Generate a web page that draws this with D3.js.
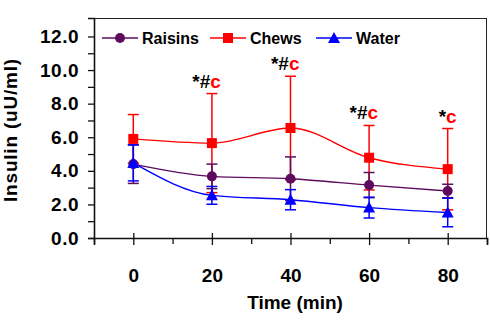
<!DOCTYPE html>
<html>
<head>
<meta charset="utf-8">
<script src="https://cdn.jsdelivr.net/npm/d3@7"></script>
<style>
  body { margin: 0; background: #fff; }
  svg { display: block; font-family: "Liberation Sans", Arial, sans-serif; font-weight: bold; }
</style>
</head>
<body>
<div id="chart"></div>
<script>
/*
    DATA
*/
let times = [0, 20, 40, 60, 80];
let raisins = [4.40, 3.67, 3.53, 3.15, 2.80];
let raisinsErr = [1.15, 0.73, 1.30, 0.75, 0.40];
let chews = [5.90, 5.65, 6.55, 4.78, 4.10];
let chewsErr = [1.45, 2.95, 3.08, 1.92, 2.42];
let water = [4.47, 2.54, 2.28, 1.81, 1.52];
let waterErr = [1.07, 0.53, 0.60, 0.62, 0.85];

let seriesNames = ["Raisins", "Chews", "Water"];
let markBlack = ["", "*#", "*#", "*#", "*"];
let markRed = ["", "c", "c", "c", "c"];

let yTicks = [0, 2, 4, 6, 8, 10, 12];
let yMinor = [1, 3, 5, 7, 9, 11];
let xMinor = [-10, 10, 30, 50, 70, 90];

/*
    LAYOUT
*/
let SIZE = { width: 490, height: 325 };
let PLOT = { left: 94, right: 487, top: 18, bot: 238 };

let x = d3.scaleLinear().domain([-10, 90]).range([PLOT.left, PLOT.right]);
let y = d3.scaleLinear().domain([0, 13.1]).range([PLOT.bot, PLOT.top]);

var svg = d3.select("#chart")
    .append("svg")
    .attr("width", SIZE.width)
    .attr("height", SIZE.height);

// frame (top / right thin)
svg.append("line")
    .attr("x1", PLOT.left).attr("x2", PLOT.right)
    .attr("y1", PLOT.top + 0.5).attr("y2", PLOT.top + 0.5)
    .style("stroke", "#222").style("stroke-width", "1px");
svg.append("line")
    .attr("x1", PLOT.right - 0.5).attr("x2", PLOT.right - 0.5)
    .attr("y1", PLOT.top).attr("y2", PLOT.bot)
    .style("stroke", "#222").style("stroke-width", "1px");

// y axis
var yAxis = svg.append("g")
    .attr("transform", `translate(${PLOT.left}, 0)`)
    .call(d3.axisLeft(y).tickValues(yTicks).tickSize(6).tickPadding(9).tickFormat(d3.format(".1f")));
svg.append("g")
    .attr("transform", `translate(${PLOT.left}, 0)`)
    .call(d3.axisLeft(y).tickValues(yMinor).tickSize(6).tickFormat(""))
    .select(".domain").remove();

// x axis
var xAxis = svg.append("g")
    .attr("transform", `translate(0, ${PLOT.bot})`)
    .call(d3.axisBottom(x).tickValues(times).tickSize(7).tickPadding(24).tickFormat(d3.format("d")));
xAxis.selectAll(".tick line").attr("y1", -5);
svg.append("g")
    .attr("transform", `translate(0, ${PLOT.bot})`)
    .call(d3.axisBottom(x).tickValues(xMinor).tickSize(6).tickFormat(""))
    .select(".domain").remove();

svg.selectAll(".domain").style("stroke", "#111").style("stroke-width", "1.6px");
svg.selectAll(".tick line").style("stroke", "#111").style("stroke-width", "1.3px");
svg.selectAll(".tick text")
    .style("font-family", "\"Liberation Sans\", Arial, sans-serif")
    .style("font-weight", "bold")
    .style("font-size", "19px")
    .style("fill", "#000");
yAxis.selectAll(".tick text").attr("x", -15).style("letter-spacing", "0.5px");

// axis titles
svg.append("text")
    .attr("transform", "translate(17, 130) rotate(-90)")
    .attr("text-anchor", "middle")
    .style("font-size", "19px")
    .style("letter-spacing", "0.8px")
    .text("Insulin (uU/ml)");
svg.append("text")
    .attr("x", 295).attr("y", 309)
    .attr("text-anchor", "middle")
    .style("font-size", "19px")
    .text("Time (min)");

/*
    SERIES
*/
let series = [
    { name: seriesNames[1], vals: chews, err: chewsErr, color: "#ff0000", shape: "square" },
    { name: seriesNames[0], vals: raisins, err: raisinsErr, color: "#5e0b5e", shape: "circle" },
    { name: seriesNames[2], vals: water, err: waterErr, color: "#0000ff", shape: "triangle" }
];

var line = d3.line()
    .x((d, i) => x(times[i]))
    .y(d => y(d))
    .curve(d3.curveMonotoneX);

function marker(g, shape, color) {
    if (shape == "circle") {
        g.append("circle").attr("r", 5).attr("fill", color);
    } else if (shape == "square") {
        g.append("rect").attr("x", -5).attr("y", -5).attr("width", 10).attr("height", 10).attr("fill", color);
    } else {
        g.append("path").attr("d", "M0,-6L6,5L-6,5Z").attr("fill", color);
    }
}

series.forEach(s => {
    var g = svg.append("g");
    g.append("path")
        .attr("d", line(s.vals))
        .attr("fill", "none")
        .style("stroke", s.color)
        .style("stroke-width", "1.4px");

    var eb = g.selectAll(".eb")
        .data(s.vals)
        .enter()
        .append("g")
        .attr("transform", (d, i) => `translate(${x(times[i])}, 0)`);
    eb.append("line")
        .attr("y1", (d, i) => y(d + s.err[i]))
        .attr("y2", (d, i) => y(d - s.err[i]))
        .style("stroke", s.color).style("stroke-width", "1.5px");
    [1, -1].forEach(sign => {
        eb.append("line")
            .attr("x1", -5.5).attr("x2", 5.5)
            .attr("y1", (d, i) => y(d + sign * s.err[i]))
            .attr("y2", (d, i) => y(d + sign * s.err[i]))
            .style("stroke", s.color).style("stroke-width", "1.5px");
    });

    s.vals.forEach((v, i) => {
        var m = g.append("g").attr("transform", `translate(${x(times[i])}, ${y(v)})`);
        marker(m, s.shape, s.color);
    });
});

// significance marks above the chews error bars
var marks = svg.selectAll(".mark")
    .data(times)
    .enter()
    .append("text")
    .attr("x", d => x(d) + 9)
    .attr("y", (d, i) => y(chews[i] + chewsErr[i]) - 6)
    .attr("text-anchor", "end")
    .style("font-size", "19px");
marks.append("tspan").attr("fill", "#000").text((d, i) => markBlack[i]);
marks.append("tspan").attr("fill", "#ff0000").text((d, i) => markRed[i]);

/*
    LEGEND
*/
let legendX = [102, 210, 316];
var legend = svg.selectAll(".legend")
    .data([series[1], series[0], series[2]])
    .enter()
    .append("g")
    .attr("transform", (d, i) => `translate(${legendX[i]}, 38)`);
legend.append("line")
    .attr("x1", 0).attr("x2", 36)
    .style("stroke", d => d.color).style("stroke-width", "1.4px");
legend.each(function (d) {
    var m = d3.select(this).append("g").attr("transform", "translate(18, 0)");
    marker(m, d.shape, d.color);
});
legend.append("text")
    .attr("x", 40).attr("y", 6)
    .style("font-size", "16px")
    .text(d => d.name);
</script>
</body>
</html>
